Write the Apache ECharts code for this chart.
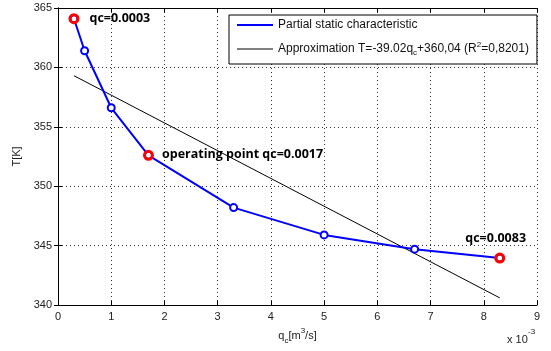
<!DOCTYPE html>
<html><head><meta charset="utf-8">
<script src="https://cdn.jsdelivr.net/npm/echarts@6/dist/echarts.min.js"></script>
<style>html,body{margin:0;padding:0;background:#fff}#c{width:551px;height:351px}</style>
</head><body><div id="c"></div>
<script>
// data (x in units of 1e-3 m^3/s)
const qc = [0.3, 0.5, 1.0, 1.7, 3.3, 5.0, 6.7, 8.3];
const T = [364.1, 361.4, 356.6, 352.6, 348.2, 345.9, 344.7, 343.95];
const fitX = [0.3, 8.3];
const fitT = [359.3, 340.6];
const markedX = [0.3, 1.7, 8.3];
const markedT = [364.1, 352.6, 343.95];
const markedLabels = ['qc=0.0003', 'operating point qc=0.0017', 'qc=0.0083'];

const chart = echarts.init(document.getElementById('c'));
const FF = 'Liberation Sans, Arial';
const axisFont = {fontFamily:FF, fontSize:11, color:'#222'};
const dotted = {show:true, lineStyle:{color:'#333', type:[1,3], width:1}};
const labelOffsets = [[5,0],[3,-1],[-45,-20]];
const hideSym = {opacity:0, color:'rgba(0,0,0,0)', borderWidth:0};
chart.setOption({
  animation:false,
  grid:{left:58, right:14, top:8, bottom:46},
  legend:{
    orient:'vertical', left:229, top:15, padding:[2,8,7,7],
    borderColor:'#000', borderWidth:1, backgroundColor:'#fff',
    itemWidth:36, itemHeight:14, itemGap:8, borderRadius:0,
    data:[{name:'Partial static characteristic', itemStyle:hideSym, lineStyle:{width:2, color:'#0000ff'}},
          {name:'Approximation', itemStyle:hideSym, lineStyle:{width:1, color:'#000'}}],
    formatter: n => n==='Approximation' ? 'Approximation T=-39.02q{sub|c}+360,04 (R{sup|2}=0,8201)' : n,
    textStyle:{fontFamily:FF, fontSize:12, color:'#111', lineHeight:16,
      rich:{sub:{fontSize:8, verticalAlign:'bottom', lineHeight:16, fontFamily:FF, color:'#111'},
            sup:{fontSize:8, verticalAlign:'top', lineHeight:16, fontFamily:FF, color:'#111'}}}
  },
  xAxis:[{type:'value', min:0, max:9, interval:1, position:'bottom',
    axisLine:{lineStyle:{color:'#000'}}, axisTick:{inside:true, length:4, lineStyle:{color:'#000'}},
    axisLabel:Object.assign({margin:6}, axisFont), splitLine:dotted,
    name:'q{sub|c}[m{sup|3}/s]', nameLocation:'middle', nameGap:22,
    nameTextStyle:Object.assign({lineHeight:18, rich:{sub:{fontSize:8, verticalAlign:'bottom', lineHeight:18, fontFamily:FF, color:'#222'}, sup:{fontSize:8, verticalAlign:'top', lineHeight:18, fontFamily:FF, color:'#222'}}}, axisFont)},
   {type:'value', min:0, max:9, interval:1, position:'top',
    axisLine:{lineStyle:{color:'#000'}}, axisTick:{inside:true, length:4, lineStyle:{color:'#000'}},
    axisLabel:{show:false}, splitLine:{show:false}}],
  yAxis:[{type:'value', min:340, max:365, interval:5, position:'left',
    axisLine:{show:true, lineStyle:{color:'#000'}}, axisTick:{show:true, inside:true, length:4, lineStyle:{color:'#000'}},
    axisLabel:Object.assign({margin:6}, axisFont), splitLine:dotted,
    name:'T[K]', nameLocation:'middle', nameGap:27, nameTextStyle:axisFont},
   {type:'value', min:340, max:365, interval:5, position:'right',
    axisLine:{show:true, lineStyle:{color:'#000'}}, axisTick:{show:true, inside:true, length:4, lineStyle:{color:'#000'}},
    axisLabel:{show:false}, splitLine:{show:false}}],
  series:[
    {name:'Approximation', type:'line', data:fitX.map((x,i)=>[x,fitT[i]]), symbol:'none',
      lineStyle:{color:'#000', width:1}, itemStyle:{color:'#000'}, z:2},
    {name:'Partial static characteristic', type:'line', symbol:'none',
      data:qc.map((x,i)=>({value:[x,T[i]], symbol:'emptyCircle', symbolSize:7})),
      showAllSymbol:true,
      lineStyle:{color:'#0000ff', width:2}, itemStyle:{color:'#0000ff', borderColor:'#0000ff', borderWidth:1.5}, z:3},
    {name:'marked', type:'scatter', data:markedX.map((x,i)=>[x,markedT[i]]),
      symbol:'circle', symbolSize:8,
      itemStyle:{color:'rgba(255,255,255,0)', borderColor:'#ff0000', borderWidth:3, opacity:1}, z:4,
      label:{show:true, position:'right', fontFamily:'Open Sans', fontWeight:'bold', fontSize:12.5, color:'#000',
        formatter:p=>markedLabels[p.dataIndex]},
      labelLayout:(p)=>({dx:labelOffsets[p.dataIndex][0], dy:labelOffsets[p.dataIndex][1]})}
  ],
  graphic:[{type:'text', left:507, top:334, style:{text:'x 10', fontFamily:FF, fontSize:11, fill:'#222'}},
           {type:'text', left:528, top:328, style:{text:'-3', fontFamily:FF, fontSize:8, fill:'#222'}}]
});
</script></body></html>
